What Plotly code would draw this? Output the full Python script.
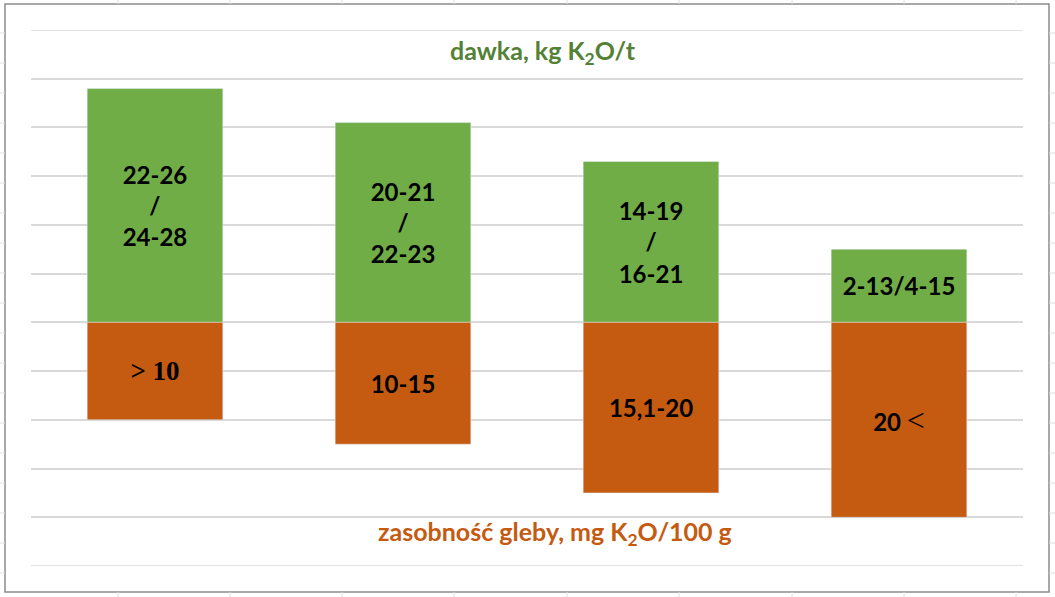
import plotly.graph_objects as go

# four soil-potassium classes
categories = ["A", "B", "C", "D"]

# dose (upper, green) and soil content (lower, orange) bar lengths
dose_values = [4.8, 4.1, 3.3, 1.5]
soil_values = [-2.0, -2.5, -3.5, -4.0]

dose_labels = ["22-26<br>/<br>24-28", "20-21<br>/<br>22-23", "14-19<br>/<br>16-21", "2-13/4-15"]
soil_labels = [
    '<span style="font-family:Liberation Serif;font-size:27px">&gt; 10</span>',
    "10-15",
    "15,1-20",
    '20 <span style="font-family:Liberation Serif;font-weight:normal;font-size:32px">&lt;</span>',
]

GREEN = "#70AD47"
ORANGE = "#C55A11"
W, H = 1055, 597
L, R, T, B = 31, 32, 30, 31
Y_MIN, Y_MAX = -5, 6


def px_x(x):
    return (x - L) / (W - L - R)


def px_y(y):
    return (H - B - y) / (H - T - B)


fig = go.Figure()
fig.add_trace(go.Bar(
    x=categories, y=dose_values, text=dose_labels, marker_color=GREEN,
    textposition="inside", insidetextanchor="middle", constraintext="none", textangle=0,
    textfont=dict(family="Lato", size=24, color="black", weight="bold"),
    hoverinfo="skip",
))
fig.add_trace(go.Bar(
    x=categories, y=soil_values, text=soil_labels, marker_color=ORANGE,
    textposition="inside", insidetextanchor="middle", constraintext="none", textangle=0,
    textfont=dict(family="Lato", size=24, color="black", weight="bold"),
    hoverinfo="skip",
))

fig.add_annotation(text="dawka, kg K<sub>2</sub>O/t", x=px_x(543), y=px_y(52), xref="paper", yref="paper",
                   xanchor="center", yanchor="middle", showarrow=False,
                   font=dict(family="Lato", size=25, color="#538135", weight="bold"))
fig.add_annotation(text="zasobność gleby, mg K<sub>2</sub>O/100 g", x=px_x(555), y=px_y(533), xref="paper",
                   yref="paper", xanchor="center", yanchor="middle", showarrow=False,
                   font=dict(family="Lato", size=25, color=ORANGE, weight="bold"))

# gridlines at the very top and bottom of the range (plotly skips them at the edges)
shapes = [dict(type="line", xref="paper", yref="y", x0=0, x1=1, y0=v, y1=v, layer="below",
               line=dict(color="#d9d9d9", width=1.5)) for v in (Y_MIN, Y_MAX)]

# excel sheet frame around the chart
shapes.append(dict(type="rect", xref="paper", yref="paper", x0=px_x(5), x1=px_x(1049), y0=px_y(592),
                   y1=px_y(4), line=dict(color="#8c8c8c", width=1.5), layer="below"))
for cx in [118, 230, 342, 454, 567, 679, 792, 904, 1016]:
    for y0, y1 in [(0, 4), (592, 597)]:
        shapes.append(dict(type="line", xref="paper", yref="paper", x0=px_x(cx), x1=px_x(cx),
                           y0=px_y(y0), y1=px_y(y1), line=dict(color="#e0e0e0", width=1)))
for cy in range(33, 592, 30):
    for x0, x1 in [(0, 5), (1049, 1055)]:
        shapes.append(dict(type="line", xref="paper", yref="paper", x0=px_x(x0), x1=px_x(x1),
                           y0=px_y(cy), y1=px_y(cy), line=dict(color="#e0e0e0", width=1)))

fig.update_layout(
    barmode="relative", bargap=0.453, showlegend=False,
    width=W, height=H, margin=dict(l=L, r=R, t=T, b=B),
    paper_bgcolor="white", plot_bgcolor="white",
    shapes=shapes,
    xaxis=dict(visible=False),
    yaxis=dict(range=[Y_MIN, Y_MAX], dtick=1, showticklabels=False, zeroline=False,
               gridcolor="#d9d9d9", gridwidth=1.5, fixedrange=True),
)

fig.write_html("out.html", config={"displayModeBar": False},
               post_script="document.body.style.margin='0';")
